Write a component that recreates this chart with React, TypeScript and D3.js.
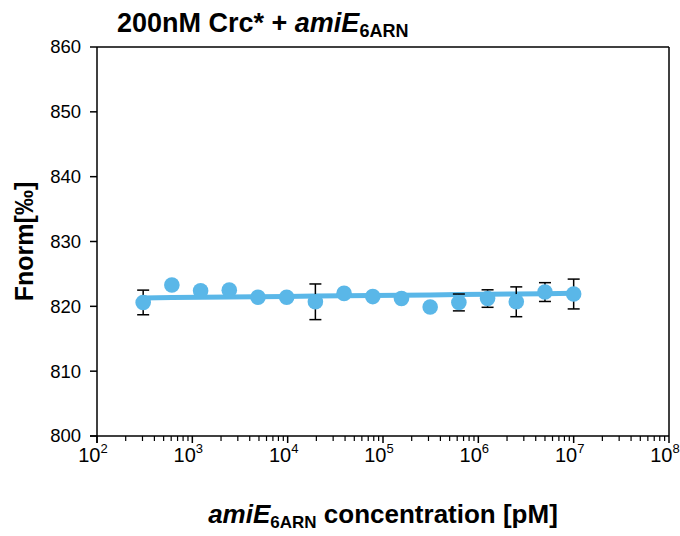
import React from 'react'
import * as d3 from 'd3'

// dilution series (pM) and measured Fnorm values
const concentrations = [305, 610, 1221, 2441, 4883, 9766, 19531, 39063, 78125, 156250, 312500, 625000, 1250000, 2500000, 5000000, 10000000]
const fnorm = [820.6, 823.3, 822.4, 822.5, 821.4, 821.4, 820.7, 822.0, 821.5, 821.2, 819.9, 820.6, 821.2, 820.7, 822.2, 821.9]
const errors = [1.9, 0.4, 0.5, 0.4, 0.4, 0.4, 2.75, 0.4, 0.4, 0.4, 0.4, 1.3, 1.35, 2.3, 1.45, 2.3]
// fitted curve (flat), value at first and last concentration
const fitValues = [821.3, 822.0]

const yTicks = [800, 810, 820, 830, 840, 850, 860]
const xExponents = [2, 3, 4, 5, 6, 7, 8]

const W = 680
const H = 536
const margin = { top: 47, right: 11, bottom: 100, left: 97 }
const FONT = "Arial, 'Liberation Sans', sans-serif"
const BLUE = '#5ab7e8'

const App = () => {
    const x = d3.scaleLog().domain([1e2, 1e8]).range([margin.left, W - margin.right])
    const y = d3.scaleLinear().domain([800, 860]).range([H - margin.bottom, margin.top])

    const x0 = x.range()[0], x1 = x.range()[1]
    const yBottom = y.range()[0], yTop = y.range()[1]

    const minorTicks: number[] = []
    xExponents.slice(0, -1).forEach(e => {
        for (let k = 2; k <= 9; k++) minorTicks.push(k * Math.pow(10, e))
    })

    const lx0 = Math.log10(concentrations[0])
    const lx1 = Math.log10(concentrations[concentrations.length - 1])
    const fitLine = d3.line<number>()
        .x(d => x(d))
        .y(d => y(fitValues[0] + (fitValues[1] - fitValues[0]) * (Math.log10(d) - lx0) / (lx1 - lx0)))

    return (
        <svg width={W} height={H} style={{ position: 'absolute', left: 0, top: 0, background: '#fff' }} fontFamily={FONT}>
            {/* title */}
            <text x={117} y={32} fontSize={27} fontWeight="bold" fill="#000">
                200nM Crc* + <tspan fontStyle="italic">amiE</tspan>
                <tspan fontSize={18} dy={5}>6ARN</tspan>
            </text>

            {/* frame */}
            <line x1={x0} x2={x1} y1={yTop} y2={yTop} stroke="#000" strokeWidth={1.5} />
            <line x1={x1} x2={x1} y1={yTop} y2={yBottom} stroke="#000" strokeWidth={1.5} />

            {/* y axis */}
            <line x1={x0} x2={x0} y1={yTop} y2={yBottom + 7} stroke="#000" strokeWidth={1.5} />
            {yTicks.map(t => (
                <g key={t}>
                    <line x1={x0 - 7} x2={x0} y1={y(t)} y2={y(t)} stroke="#000" strokeWidth={1.5} />
                    <text x={x0 - 16} y={y(t)} dy="0.35em" textAnchor="end" fontSize={18.5} fill="#000">{t}</text>
                </g>
            ))}
            <text transform={`translate(33, ${(yTop + yBottom) / 2}) rotate(-90)`} textAnchor="middle" fontSize={25} fontWeight="bold" fill="#000">
                Fnorm[‰]
            </text>

            {/* x axis */}
            <line x1={x0 - 7} x2={x1} y1={yBottom} y2={yBottom} stroke="#000" strokeWidth={1.5} />
            {xExponents.map(e => (
                <g key={e}>
                    <line x1={x(Math.pow(10, e))} x2={x(Math.pow(10, e))} y1={yBottom} y2={yBottom + 7} stroke="#000" strokeWidth={1.5} />
                    <text x={x(Math.pow(10, e)) - 4} y={yBottom + 26} textAnchor="middle" fontSize={20} fill="#000">
                        10<tspan fontSize={13} dy={-9}>{e}</tspan>
                    </text>
                </g>
            ))}
            {minorTicks.map(t => (
                <line key={t} x1={x(t)} x2={x(t)} y1={yBottom} y2={yBottom + 5} stroke="#000" strokeWidth={1.2} />
            ))}
            <text x={(x0 + x1) / 2} y={523} textAnchor="middle" fontSize={26} fontWeight="bold" fill="#000">
                <tspan fontStyle="italic">amiE</tspan>
                <tspan fontSize={17} dy={5}>6ARN</tspan>
                <tspan dy={-5}> concentration [pM]</tspan>
            </text>

            {/* fit */}
            <path d={fitLine(concentrations) || ''} fill="none" stroke={BLUE} strokeWidth={5} />

            {/* error bars */}
            {concentrations.map((c, i) => (
                <g key={'e' + i} stroke="#000" strokeWidth={1.5}>
                    <line x1={x(c)} x2={x(c)} y1={y(fnorm[i] - errors[i])} y2={y(fnorm[i] + errors[i])} />
                    <line x1={x(c) - 6} x2={x(c) + 6} y1={y(fnorm[i] - errors[i])} y2={y(fnorm[i] - errors[i])} />
                    <line x1={x(c) - 6} x2={x(c) + 6} y1={y(fnorm[i] + errors[i])} y2={y(fnorm[i] + errors[i])} />
                </g>
            ))}

            {/* points */}
            {concentrations.map((c, i) => (
                <circle key={'p' + i} cx={x(c)} cy={y(fnorm[i])} r={7.8} fill={BLUE} />
            ))}
        </svg>
    )
}

export default App
